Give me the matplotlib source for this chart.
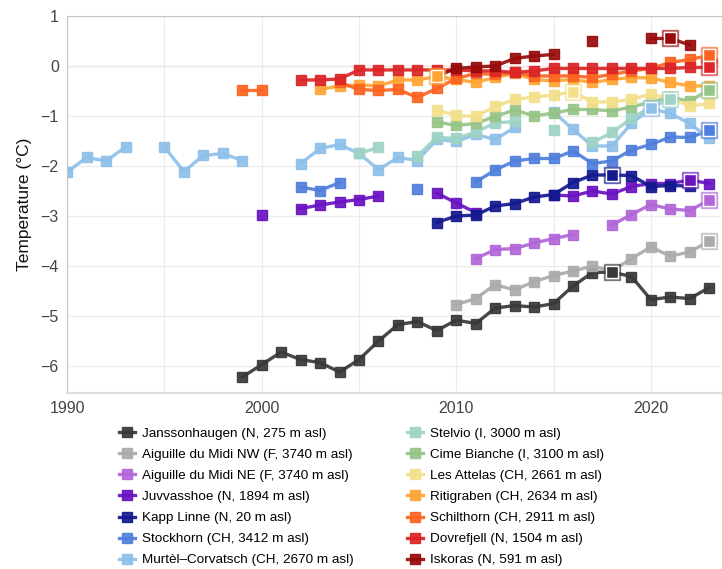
import numpy as np
import matplotlib
matplotlib.use("Agg")
import matplotlib.pyplot as plt

plt.rcParams["font.family"] = ["Liberation Sans", "DejaVu Sans"]

nan = np.nan

# ------------------------------------------------------------
# Data (first year + yearly values, nan = gap)
# ------------------------------------------------------------
JANSSON_START = 1999
JANSSON = [-6.22, -5.97, -5.72, -5.87, -5.93, -6.12, -5.87, -5.50, -5.17, -5.11,
           -5.29, -5.08, -5.15, -4.84, -4.79, -4.82, -4.75, -4.40, -4.13, -4.12,
           -4.21, -4.67, -4.62, -4.65, -4.43]

AIG_NW_START = 2010
AIG_NW = [-4.77, -4.65, -4.37, -4.48, -4.31, -4.19, -4.10, -4.00, -4.10, -3.85,
          -3.62, -3.80, -3.72, -3.50]

AIG_NE_START = 2011
AIG_NE = [-3.85, -3.67, -3.65, -3.54, -3.45, -3.37, nan, -3.18, -2.97, -2.77,
          -2.86, -2.89, -2.68]

JUVV_START = 2000
JUVV = [-2.97, nan, -2.85, -2.78, -2.72, -2.67, -2.60, nan, nan, -2.54,
        -2.74, -2.93, nan, nan, nan, -2.58, -2.60, -2.50, -2.56, -2.41,
        -2.35, -2.35, -2.28, -2.35]

KAPP_START = 2009
KAPP = [-3.13, -3.00, -2.98, -2.80, -2.75, -2.62, -2.57, -2.33, -2.18, -2.18,
        -2.19, -2.41, -2.39, -2.40]

STOCK_START = 2002
STOCK = [-2.42, -2.49, -2.33, nan, nan, nan, -2.45, nan, nan, -2.32,
         -2.08, -1.90, -1.85, -1.85, -1.70, -1.95, -1.90, -1.68, -1.57, -1.42,
         -1.43, -1.29]

MURTEL_START = 1990
MURTEL = [-2.12, -1.83, -1.90, -1.62, nan, -1.62, -2.11, -1.79, -1.75, -1.89,
          nan, nan, -1.95, -1.65, -1.57, -1.75, -2.07, -1.83, -1.89, -1.47,
          -1.51, -1.37, -1.47, -1.23, nan, -0.92, -1.27, -1.60, -1.60, -1.15,
          -0.85, -0.95, -1.15, -1.45]

STELVIO_START = 2005
STELVIO = [-1.75, -1.63, nan, -1.80, -1.43, -1.45, -1.32, -1.14, -1.11, nan,
           -1.28, nan, -1.53, -1.33, -1.05, -0.82, -0.67]

CIME_START = 2009
CIME = [-1.12, -1.19, -1.15, -1.01, -0.88, -1.00, -0.94, -0.87, -0.87, -0.90,
        -0.82, -0.72, -0.63, -0.70, -0.48]

ATTELAS_START = 2009
ATTELAS = [-0.88, -0.99, -1.01, -0.81, -0.67, -0.62, -0.58, -0.52, -0.72, -0.72,
           -0.67, -0.56, -0.65, -0.80, -0.75]

RITI_START = 2003
RITI = [-0.47, -0.40, -0.38, -0.40, -0.28, -0.28, -0.21, -0.27, -0.33, -0.23,
        -0.15, -0.27, -0.30, -0.27, -0.33, -0.27, -0.23, -0.24, -0.33, -0.40,
        -0.40]

SCHILT_START = 1999
SCHILT = [-0.49, -0.49, nan, nan, nan, -0.33, -0.47, -0.49, -0.47, -0.63,
          -0.45, -0.25, -0.15, -0.17, -0.13, -0.20, -0.20, -0.20, -0.23, -0.17,
          -0.10, -0.05, 0.07, 0.13, 0.21]

DOVRE_START = 2002
DOVRE = [-0.28, -0.28, -0.26, -0.08, -0.08, -0.08, -0.08, -0.08, -0.08, -0.10,
         -0.10, -0.13, -0.10, -0.05, -0.05, -0.05, -0.05, -0.05, -0.05, -0.05,
         -0.03, -0.03]

ISKORAS_START = 2009
ISKORAS = [-0.20, -0.05, -0.02, 0.00, 0.15, 0.20, 0.23, nan, 0.49, nan,
           nan, 0.55, 0.55, 0.42]

LABELS = [
    "Janssonhaugen (N, 275 m asl)",
    "Aiguille du Midi NW (F, 3740 m asl)",
    "Aiguille du Midi NE (F, 3740 m asl)",
    "Juvvasshoe (N, 1894 m asl)",
    "Kapp Linne (N, 20 m asl)",
    "Stockhorn (CH, 3412 m asl)",
    "Murtèl\u2013Corvatsch (CH, 2670 m asl)",
    "Stelvio (I, 3000 m asl)",
    "Cime Bianche (I, 3100 m asl)",
    "Les Attelas (CH, 2661 m asl)",
    "Ritigraben (CH, 2634 m asl)",
    "Schilthorn (CH, 2911 m asl)",
    "Dovrefjell (N, 1504 m asl)",
    "Iskoras (N, 591 m asl)",
]

STARTS = [JANSSON_START, AIG_NW_START, AIG_NE_START, JUVV_START, KAPP_START,
          STOCK_START, MURTEL_START, STELVIO_START, CIME_START, ATTELAS_START,
          RITI_START, SCHILT_START, DOVRE_START, ISKORAS_START]
VALUES = [JANSSON, AIG_NW, AIG_NE, JUVV, KAPP, STOCK, MURTEL, STELVIO, CIME,
          ATTELAS, RITI, SCHILT, DOVRE, ISKORAS]

# year of the highlighted (boxed) point per series
HIGHLIGHT_YEARS = [2018, 2023, 2023, 2022, 2018, 2023, 2020, 2021, 2023,
                   2016, 2009, 2023, 2023, 2021]

COLORS = ["#383838", "#ababab", "#b267d8", "#6a12c0", "#13198e", "#4f7fdc",
          "#8ec0ea", "#9ed3c5", "#96c487", "#f3e08b", "#ffa536", "#fb6421",
          "#db2527", "#980b0b"]


def main() -> None:
    fig = plt.figure(figsize=(7.22, 5.69), dpi=100)
    ax = fig.add_axes([0.093, 0.310, 0.906, 0.662])

    handles = []
    for label, start, vals, color, hy in zip(LABELS, STARTS, VALUES, COLORS,
                                             HIGHLIGHT_YEARS):
        years = np.arange(start, start + len(vals))
        vals = np.asarray(vals, dtype=float)
        line, = ax.plot(years, vals, color=color, lw=2.4, marker="s", ms=6.8,
                        mec=color, alpha=0.92, solid_joinstyle="round",
                        label=label)
        handles.append(line)

        idx = np.flatnonzero(years == hy)
        if len(idx):
            ax.plot(years[idx], vals[idx], ls="none", marker="s", ms=11,
                    mfc=color, mec=color, alpha=0.55, zorder=3)
            ax.plot(years[idx], vals[idx], ls="none", marker="s", ms=8,
                    mfc=color, mec="white", mew=1.0, zorder=4)

    ax.axhline(0, color="#f2c4c4", lw=1.0, zorder=0.5)

    ax.set_xlim(1990, 2023.62)
    ax.set_ylim(-6.53, 1)
    ax.set_xticks([1990, 2000, 2010, 2020])
    ax.set_xticks(np.arange(1995, 2024, 5), minor=True)
    ax.set_yticks(np.arange(-6, 2, 1))
    ax.grid(True, which="both", color="#ececec", lw=0.9, zorder=0)
    ax.set_axisbelow(True)
    ax.tick_params(which="both", length=0, labelsize=11.5,
                   labelcolor="#444444", pad=6)

    ax.spines["right"].set_visible(False)
    ax.spines["top"].set_color("#c4c4c4")
    ax.spines["left"].set_color("#c4c4c4")
    ax.spines["bottom"].set_color("#dddddd")
    ax.spines["bottom"].set_linewidth(1.5)

    ax.set_ylabel("Temperature (°C)", fontsize=12.5, color="#111111",
                  labelpad=6)

    fig.legend(handles=handles, labels=LABELS, ncol=2, loc="upper left",
               bbox_to_anchor=(0.157, 0.258), frameon=False, fontsize=9.7,
               handlelength=1.18, handletextpad=0.58, labelspacing=0.64,
               columnspacing=3.9, borderaxespad=0)

    fig.savefig("out.png", dpi=100)
    plt.close(fig)


if __name__ == "__main__":
    main()
